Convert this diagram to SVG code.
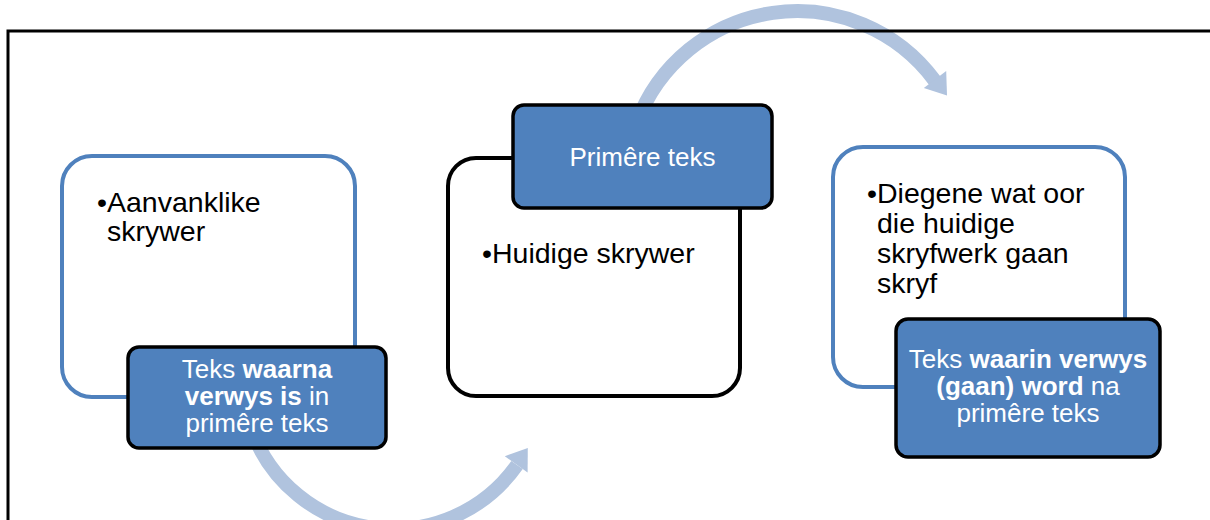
<svg xmlns="http://www.w3.org/2000/svg" width="1210" height="520" viewBox="0 0 1210 520">
  <style>
    .box { fill: #ffffff; stroke-width: 4; }
    .blue { stroke: #4F81BD; }
    .black { stroke: #000000; }
    .label { fill: #4F81BD; stroke: #000000; stroke-width: 3.5; }
    .body { font-family: "Liberation Sans", Arial, sans-serif; font-size: 28.5px; fill: #000000; }
    .lt { font-family: "Liberation Sans", Arial, sans-serif; font-size: 26px; fill: #ffffff; text-anchor: middle; }
    .b { font-weight: bold; }
    .arc { fill: none; stroke: #B0C3DE; stroke-width: 14; }
    .head { fill: #B0C3DE; }
  </style>
  <rect x="0" y="0" width="1210" height="520" fill="#ffffff"/>

  <g id="connectors">
    <path class="arc" d="M636.3,124 A171,171 0 0 1 935,81"/>
    <polygon class="head" points="946.2,71.1 947,95.5 923.8,87.9"/>
    <path class="arc" d="M251.1,428.6 A151,151 0 0 0 517,465"/>
    <polygon class="head" points="504.8,456.2 527.8,448 527.6,472.4"/>
  </g>

  <g id="node-aanvanklike">
    <rect class="box blue" x="62" y="156" width="293" height="241" rx="30"/>
    <text class="body" x="97" y="212">•Aanvanklike<tspan x="107" y="241">skrywer</tspan></text>
  </g>
  <g id="node-teks-waarna">
    <rect class="label" x="128" y="347" width="258" height="101" rx="11"/>
    <text class="lt" x="257" y="378">Teks <tspan class="b">waarna</tspan><tspan x="257" y="405" class="b">verwys is</tspan> in<tspan x="257" y="432">primêre teks</tspan></text>
  </g>

  <g id="node-huidige">
    <rect class="box black" x="448" y="158" width="292" height="238" rx="28"/>
    <text class="body" x="482" y="263">•Huidige skrywer</text>
  </g>
  <g id="node-primere">
    <rect class="label" x="513" y="105" width="259" height="103" rx="11"/>
    <text class="lt" x="642.5" y="166">Primêre teks</text>
  </g>

  <g id="node-diegene">
    <rect class="box blue" x="833" y="147" width="292" height="240" rx="30"/>
    <text class="body" x="867" y="203">•Diegene wat oor<tspan x="877" y="233">die huidige</tspan><tspan x="877" y="263">skryfwerk gaan</tspan><tspan x="877" y="293">skryf</tspan></text>
  </g>
  <g id="node-teks-waarin">
    <rect class="label" x="896" y="319" width="264" height="138" rx="12"/>
    <text class="lt" x="1028" y="368">Teks <tspan class="b">waarin verwys</tspan><tspan x="1028" y="395" class="b">(gaan) word</tspan> na<tspan x="1028" y="422">primêre teks</tspan></text>
  </g>

  <path d="M1214,31 H8 V524" fill="none" stroke="#000000" stroke-width="3"/>
</svg>
